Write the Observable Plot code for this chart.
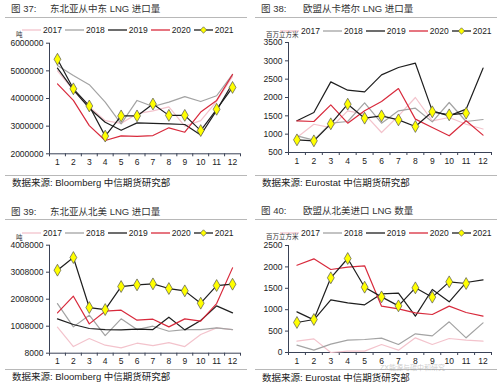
<!DOCTYPE html>
<html><head><meta charset="utf-8">
<script src="https://cdn.jsdelivr.net/npm/d3@7"></script>
<script src="https://cdn.jsdelivr.net/npm/@observablehq/plot@0.6"></script>
<style>
body{margin:0;background:#fff;}
#root{position:relative;width:500px;height:388px;overflow:hidden;font-family:"Liberation Sans","Noto Sans CJK SC",sans-serif;color:#222;background:#fff;}
.abs{position:absolute;white-space:nowrap;}
.hl{position:absolute;height:0;border-top:1px solid #b8b8b8;}
.leg{position:absolute;display:flex;align-items:center;font-size:8.5px;line-height:10px;color:#222;}
.leg span{margin-right:3px;}
.leg svg{margin-right:2px;}
</style></head><body><div id="root"></div>
<script>
const months = [1,2,3,4,5,6,7,8,9,10,11,12];
const years = ["2017","2018","2019","2020","2021"];
const yearColors = ["#f3c3cc","#a3a3a3","#1e1e1e","#d82a3c","#1e1e1e"];

// 图37 东北亚从中东 LNG 进口量 (吨)
const me2017 = [5000000,4300000,3700000,3200000,3100000,3450000,3550000,3700000,3000000,3200000,3900000,4800000];
const me2018 = [5190000,4830000,4500000,3870000,3080000,3930000,3710000,3870000,4070000,3890000,4100000,4870000];
const me2019 = [5100000,4310000,3650000,3140000,2850000,3120000,3100000,3080000,3060000,2680000,3570000,4550000];
const me2020 = [4530000,3930000,3020000,2480000,2650000,2630000,2660000,2940000,2780000,3510000,3930000,4870000];
const me2021 = [5420000,4350000,3730000,2640000,3370000,3370000,3800000,3390000,3390000,2840000,3610000,4400000];
const meTicks = [2000000,3000000,4000000,5000000,6000000];

// 图38 欧盟从卡塔尔 LNG 进口量 (百万立方米)
const qa2017 = [910,1270,1180,1636,1545,1045,1500,2000,1364,1455,1270,1140];
const qa2018 = [955,836,1300,1345,1855,1300,1636,1709,1336,1864,1345,1400];
const qa2019 = [1364,1590,2427,2200,2155,2618,2818,2936,1636,1500,1682,2800];
const qa2020 = [1364,1345,1800,1300,1636,1890,2245,1410,1182,955,1364,973];
const qa2021 = [845,818,1282,1818,1436,1500,1390,1210,1610,1527,1573];
const qaTicks = [500,1000,1500,2000,2500,3000,3500];

// 图39 东北亚从北美 LNG 进口量 (吨)
const na2017 = [970000,254000,551000,304000,205000,378000,291000,402000,254000,699000,946000,884000];
const na2018 = [1847000,983000,1415000,662000,1280000,884000,1008000,822000,884000,884000,946000,884000];
const na2019 = [1280000,1070000,922000,884000,872000,897000,884000,1341000,872000,1218000,1761000,1502000];
const na2020 = [1502000,2119000,1094000,1563000,1600000,1230000,1267000,983000,1280000,1193000,1847000,3168000];
const na2021 = [3082000,3551000,1699000,1625000,2477000,2539000,2576000,2403000,2317000,1860000,2514000,2563000];
const naTicks = [8000,1008000,2008000,3008000,4008000];

// 图40 欧盟从北美进口 LNG 数量 (百万立方米)
const eu2017 = [265,319,0,31,31,187,55,343,187,327,288,265];
const eu2018 = [171,55,195,288,304,335,187,436,389,717,343,693];
const eu2019 = [950,763,1230,1160,1114,1371,1386,849,1472,1184,1636,1698];
const eu2020 = [2040,2188,1939,1994,2025,1083,1020,927,888,1083,935,849];
const eu2021 = [701,771,1745,2196,1526,1300,1090,1511,1293,1651,1612];
const euTicks = [0,500,1000,1500,2000,2500];

const axisColor = "#3a4256";
const root = document.getElementById("root");

function txt(parent, s, x, y, size, color, extra) {
  const d = document.createElement("div");
  d.className = "abs";
  d.textContent = s;
  d.style.left = x + "px";
  d.style.top = (y - size * 0.6) + "px";
  d.style.fontSize = size + "px";
  d.style.lineHeight = (size * 1.2) + "px";
  d.style.color = color || "#222";
  if (extra) Object.assign(d.style, extra);
  parent.appendChild(d);
  return d;
}
function hline(parent, x, y, w) {
  const d = document.createElement("div");
  d.className = "hl";
  d.style.left = x + "px"; d.style.top = y + "px"; d.style.width = w + "px";
  parent.appendChild(d);
}
function legend(parent, x, y) {
  const L = document.createElement("div");
  L.className = "leg";
  L.style.left = x + "px"; L.style.top = (y - 5) + "px";
  years.forEach((yr, i) => {
    const svg = d3.create("svg").attr("width", 19).attr("height", 8);
    svg.append("line").attr("x1", 0).attr("x2", 19).attr("y1", 4).attr("y2", 4)
      .attr("stroke", yearColors[i]).attr("stroke-width", 1.3);
    if (yr === "2021") {
      svg.append("path").attr("d", "M9.5,0.8L12.7,4L9.5,7.2L6.3,4Z")
        .attr("fill", "#ffff00").attr("stroke", "#555").attr("stroke-width", 0.7);
    }
    L.appendChild(svg.node());
    const s = document.createElement("span");
    s.textContent = yr;
    L.appendChild(s);
  });
  parent.appendChild(L);
}

function chart(cfg) {
  const rows = [];
  cfg.series.forEach((vals, i) => vals.forEach((v, j) => rows.push({year: years[i], month: months[j], value: v})));
  const bounds = [0.5].concat(months.map(m => m + 0.5));
  const marks = [
    Plot.axisX({ticks: bounds, tickSize: 3, tickFormat: () => "", stroke: axisColor, label: null}),
    Plot.axisX({ticks: months, tickSize: 0, tickPadding: 5, tickFormat: d => String(d), label: null}),
    Plot.axisY({ticks: cfg.ticks, tickSize: 3, tickPadding: 3, tickFormat: d3.format("d"), stroke: axisColor, label: null}),
    Plot.ruleY([cfg.ticks[0]], {stroke: axisColor, strokeWidth: 1}),
    Plot.ruleX([0.5], {stroke: axisColor, strokeWidth: 1})
  ];
  years.forEach((yr, i) => {
    marks.push(Plot.line(rows, {filter: d => d.year === yr, x: "month", y: "value", stroke: yearColors[i], strokeWidth: 1.2}));
  });
  marks.push(Plot.dot(rows, {filter: d => d.year === "2021", x: "month", y: "value", symbol: "diamond", r: 3.6, fill: "#ffff00", stroke: "#555", strokeWidth: 0.7}));
  return Plot.plot({
    width: 250, height: cfg.h,
    marginLeft: cfg.mL, marginRight: cfg.mR, marginTop: cfg.mT, marginBottom: cfg.mB,
    x: {type: "linear", domain: [0.5, 12.5], label: null},
    y: {domain: [cfg.ticks[0], cfg.ticks[cfg.ticks.length - 1]], label: null},
    style: {fontFamily: '"Liberation Sans", sans-serif', fontSize: "8.5px", color: "#222", background: "transparent", overflow: "visible"},
    marks
  });
}

const panels = [
  {left: 0, top: 0, num: "图 37:", sub: "东北亚从中东 LNG 进口量", subX: 50, titleY: 9, tLineY: 17, legY: 30, legX: 22,
   unit: "吨", unitY: 35, svgTop: 34, h: 140, mT: 8.7, mB: 20.7, mL: 49, mR: 10,
   series: [me2017, me2018, me2019, me2020, me2021], ticks: meTicks,
   foot: "数据来源: Bloomberg  中信期货研究部", footY: 183, fLineY: 175},
  {left: 250, top: 0, num: "图 38:", sub: "欧盟从卡塔尔 LNG 进口量", subX: 53, titleY: 9, tLineY: 17, legY: 30.5, legX: 30,
   unit: "百万立方米", unitY: 34.5, svgTop: 34, h: 140, mT: 8, mB: 22, mL: 38, mR: 9,
   series: [qa2017, qa2018, qa2019, qa2020, qa2021], ticks: qaTicks,
   foot: "数据来源: Eurostat  中信期货研究部", footY: 183, fLineY: 175},
  {left: 0, top: 194, num: "图 39:", sub: "东北亚从北美 LNG 进口量", subX: 50, titleY: 18, tLineY: 25, legY: 39, legX: 22,
   unit: "吨", unitY: 44, svgTop: 42, h: 140, mT: 8.7, mB: 23.3, mL: 49, mR: 10,
   series: [na2017, na2018, na2019, na2020, na2021], ticks: naTicks,
   foot: "数据来源: Bloomberg  中信期货研究部", footY: 183, fLineY: 175},
  {left: 250, top: 194, num: "图 40:", sub: "欧盟从北美进口 LNG 数量", subX: 53, titleY: 17, tLineY: 25, legY: 39, legX: 30,
   unit: "百万立方米", unitY: 43, svgTop: 42, h: 140, mT: 9, mB: 24, mL: 38, mR: 9,
   series: [eu2017, eu2018, eu2019, eu2020, eu2021], ticks: euTicks,
   foot: "数据来源: Eurostat  中信期货研究部", footY: 184, fLineY: 175}
];

panels.forEach(p => {
  const P = document.createElement("div");
  P.style.position = "absolute";
  P.style.left = p.left + "px"; P.style.top = p.top + "px";
  P.style.width = "250px"; P.style.height = "194px";
  root.appendChild(P);
  txt(P, p.num, 11, p.titleY, 9.5, "#333");
  txt(P, p.sub, p.subX, p.titleY, 9.5, "#333");
  hline(P, 5, p.tLineY, 242);
  legend(P, p.legX, p.legY);
  const svg = chart(p);
  svg.style.position = "absolute";
  svg.style.left = "0px"; svg.style.top = p.svgTop + "px";
  P.appendChild(svg);
  txt(P, p.unit, 16, p.unitY, 6.5, "#333");
  hline(P, 5, p.fLineY, 242);
  txt(P, p.foot, 12, p.footY, 9.5, "#222");
});
txt(root, "ZX能源与碳中和研究", 380, 368.5, 7, "rgba(150,150,150,0.5)");
</script></body></html>
